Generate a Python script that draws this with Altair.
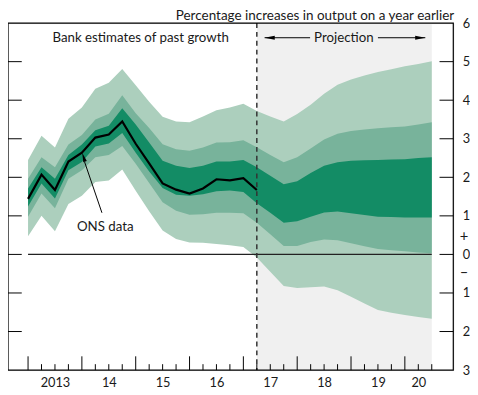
import altair as alt
import pandas as pd

# ---- data ----
quarters = list(range(31))          # 0 = 2013 Q1 ... 30 = 2020 Q3
ons_q = list(range(18))
ons = [1.44, 2.07, 1.67, 2.41, 2.64, 3.03, 3.11, 3.45, 2.87, 2.36, 1.84, 1.68,
       1.58, 1.71, 1.95, 1.92, 1.98, 1.67]

light_hi = [2.45, 3.08, 2.77, 3.52, 3.81, 4.30, 4.45, 4.81, 4.39, 3.96, 3.57, 3.45,
            3.43, 3.58, 3.74, 3.81, 3.91, 3.72, 3.58, 3.45, 3.64, 3.88, 4.17, 4.40,
            4.54, 4.64, 4.73, 4.80, 4.88, 4.94, 5.01]
light_lo = [0.47, 1.00, 0.60, 1.31, 1.52, 1.88, 1.92, 2.20, 1.65, 1.12, 0.62, 0.40,
            0.31, 0.30, 0.27, 0.24, 0.19, -0.08, -0.45, -0.82, -0.87, -0.85, -0.83,
            -0.93, -1.10, -1.27, -1.44, -1.51, -1.57, -1.62, -1.67]
mid_hi = [1.96, 2.52, 2.26, 2.85, 3.10, 3.50, 3.65, 4.13, 3.66, 3.28, 2.86, 2.73,
          2.69, 2.77, 2.90, 2.91, 2.96, 2.78, 2.58, 2.39, 2.52, 2.75, 2.98, 3.13,
          3.20, 3.24, 3.27, 3.30, 3.32, 3.37, 3.43]
mid_lo = [0.98, 1.58, 1.20, 1.96, 2.18, 2.52, 2.58, 2.81, 2.35, 1.85, 1.35, 1.13,
          1.03, 1.04, 1.08, 1.08, 1.07, 0.82, 0.52, 0.22, 0.22, 0.32, 0.39, 0.37,
          0.29, 0.21, 0.14, 0.11, 0.08, 0.05, 0.03]
dark_hi = [1.71, 2.26, 1.96, 2.58, 2.85, 3.22, 3.34, 3.79, 3.37, 2.90, 2.43, 2.30,
           2.24, 2.30, 2.41, 2.41, 2.45, 2.26, 2.04, 1.82, 1.90, 2.11, 2.30, 2.39,
           2.43, 2.44, 2.45, 2.46, 2.47, 2.50, 2.52]
dark_lo = [1.24, 1.84, 1.45, 2.18, 2.40, 2.80, 2.88, 3.15, 2.64, 2.15, 1.72, 1.55,
           1.52, 1.56, 1.64, 1.66, 1.62, 1.33, 1.08, 0.82, 0.86, 0.98, 1.09, 1.11,
           1.07, 1.02, 0.98, 0.97, 0.96, 0.96, 0.96]

proj_start, proj_end = 17, 30
x_label_pos = [2, 6, 10, 14, 18, 22, 26, 29]
x_label_text = ["2013", "14", "15", "16", "17", "18", "19", "20"]
major_ticks = [0, 4, 8, 12, 16, 20, 24, 28]
minor_ticks = [q for q in quarters if q not in major_ticks]
y_label_vals = [6, 5, 4, 3, 2, 1, 0, -1, -2, -3]
y_tick_vals = [5, 4, 3, 2, 1, 0, -1, -2]
y_min, y_max = -3, 6

header = "Percentage increases in output on a year earlier"
notes_q = [8.37, 23.47, 5.74]
notes_v = [5.62, 5.62, 0.72]
notes_t = ["Bank estimates of past growth", "Projection", "ONS data"]
sign_v = [0.47, -0.45]
sign_t = ["+", "–"]

# ---- styling ----
W, H = 453, 353
FONT = "Lato"
TXT = "#1a1a1a"
C_LIGHT, C_MID, C_DARK, C_GREY = "#accfbd", "#78b39b", "#138c65", "#f0f0f0"

xs = alt.Scale(domain=[-1.49, 31.6], nice=False, zero=False)
ys = alt.Scale(domain=[y_min, y_max], nice=False, zero=False)

band = pd.DataFrame({"q": quarters, "lh": light_hi, "ll": light_lo, "mh": mid_hi,
                     "ml": mid_lo, "dh": dark_hi, "dl": dark_lo})
line_df = pd.DataFrame({"q": ons_q, "v": ons})

lab_expr = " : ".join(f"datum.value == {p} ? '{t}'" for p, t in zip(x_label_pos, x_label_text)) + " : ''"

x_axis = alt.Axis(values=x_label_pos, labelExpr=lab_expr, ticks=False, domain=False,
                  grid=False, labelPadding=7, labelFontSize=13, labelFont=FONT,
                  labelColor=TXT, labelFlush=False, labelOverlap=False,
                  labelBound=False, title=None)
y_axis = alt.Axis(orient="right", values=y_label_vals, labelExpr="'' + abs(datum.value)",
                  ticks=False, domain=False, grid=False, labelPadding=9, labelFontSize=13,
                  labelFont=FONT, labelColor=TXT, labelFlush=False, labelOverlap=False,
                  labelBound=False, title=None)

AX = dict(scale=xs, axis=x_axis)
AY = dict(scale=ys, axis=y_axis)

grey = alt.Chart(pd.DataFrame({"a": [proj_start], "b": [proj_end],
                               "lo": [y_min], "hi": [y_max]})).mark_rect(
    color=C_GREY).encode(
    x=alt.X("a:Q", **AX), x2="b:Q", y=alt.Y("lo:Q", **AY), y2="hi:Q")

light = alt.Chart(band).mark_area(color=C_LIGHT).encode(
    x=alt.X("q:Q", **AX), y=alt.Y("ll:Q", **AY), y2="lh:Q")
mid = alt.Chart(band).mark_area(color=C_MID).encode(
    x=alt.X("q:Q", **AX), y=alt.Y("ml:Q", **AY), y2="mh:Q")
dark = alt.Chart(band).mark_area(color=C_DARK).encode(
    x=alt.X("q:Q", **AX), y=alt.Y("dl:Q", **AY), y2="dh:Q")

zero = alt.Chart(pd.DataFrame({"a": [0], "b": [30], "v": [0]})).mark_rule(
    color="#222", strokeWidth=1.2).encode(
    x=alt.X("a:Q", **AX), x2="b:Q", y=alt.Y("v:Q", **AY))

dash = alt.Chart(pd.DataFrame({"q": [proj_start]})).mark_rule(
    color="#333", strokeWidth=1.5, strokeDash=[5, 4]).encode(
    x=alt.X("q:Q", **AX), y=alt.value(0), y2=alt.value(H))

ons_line = alt.Chart(line_df).mark_line(color="black", strokeWidth=2.2).encode(
    x=alt.X("q:Q", **AX), y=alt.Y("v:Q", **AY))

maj = alt.Chart(pd.DataFrame({"q": major_ticks})).mark_rule(color="black").encode(
    x=alt.X("q:Q", **AX), y=alt.value(H), y2=alt.value(H - 14))
mnr = alt.Chart(pd.DataFrame({"q": minor_ticks})).mark_rule(color="black").encode(
    x=alt.X("q:Q", **AX), y=alt.value(H), y2=alt.value(H - 6))
yl = alt.Chart(pd.DataFrame({"v": y_tick_vals})).mark_rule(color="black").encode(
    y=alt.Y("v:Q", **AY), x=alt.value(0), x2=alt.value(14))
yr = alt.Chart(pd.DataFrame({"v": y_tick_vals})).mark_rule(color="black").encode(
    y=alt.Y("v:Q", **AY), x=alt.value(W - 14), x2=alt.value(W))

notes = alt.Chart(pd.DataFrame({"q": notes_q, "v": notes_v, "t": notes_t})).mark_text(
    font=FONT, fontSize=13.5, color=TXT, align="center", baseline="middle").encode(
    x=alt.X("q:Q", **AX), y=alt.Y("v:Q", **AY), text="t:N")

pm = alt.Chart(pd.DataFrame({"v": sign_v, "t": sign_t})).mark_text(
    font=FONT, fontSize=15, color=TXT, align="center", baseline="middle").encode(
    x=alt.value(W + 11), y=alt.Y("v:Q", **AY), text="t:N")

head = alt.Chart(pd.DataFrame({"t": [header]})).mark_text(
    font=FONT, fontSize=13.7, color=TXT, align="right", baseline="alphabetic").encode(
    x=alt.value(W + 1), y=alt.value(-3), text="t:N")

# Projection arrows
arr = pd.DataFrame({"a": [17.58, 26.0], "b": [20.96, 29.52], "v": [5.62, 5.62]})
arr_lines = alt.Chart(arr).mark_rule(color="black", strokeWidth=1).encode(
    x=alt.X("a:Q", **AX), x2="b:Q", y=alt.Y("v:Q", **AY))
heads = pd.DataFrame({"q": [17.95, 29.15], "v": [5.62, 5.62], "ang": [0, 180]})
arr_heads = alt.Chart(heads).mark_point(
    shape="M-1,0L1,-0.4L1,0.4Z", filled=True, color="black", size=110, opacity=1).encode(
    x=alt.X("q:Q", **AX), y=alt.Y("v:Q", **AY),
    angle=alt.Angle("ang:Q", scale=None))

# ONS data pointer
ptr = pd.DataFrame({"a": [5.49], "b": [4.20], "v1": [1.08], "v2": [2.40]})
ptr_line = alt.Chart(ptr).mark_rule(color="black", strokeWidth=1).encode(
    x=alt.X("a:Q", **AX), x2="b:Q", y=alt.Y("v1:Q", **AY), y2="v2:Q")
ptr_head = alt.Chart(pd.DataFrame({"q": [4.13], "v": [2.52], "ang": [342]})).mark_point(
    shape="M0,-1L0.4,1L-0.4,1Z", filled=True, color="black", size=90, opacity=1).encode(
    x=alt.X("q:Q", **AX), y=alt.Y("v:Q", **AY),
    angle=alt.Angle("ang:Q", scale=None))

frame = alt.Chart(pd.DataFrame({"k": [0]})).mark_rect(
    fillOpacity=0, stroke="black", strokeWidth=1.2).encode(
    x=alt.value(0), x2=alt.value(W), y=alt.value(0), y2=alt.value(H))

chart = alt.layer(
    grey, light, mid, dark, zero, dash, ons_line, maj, mnr, yl, yr,
    notes, pm, head, arr_lines, arr_heads, ptr_line, ptr_head, frame
).properties(
    width=W, height=H, autosize="none",
    padding={"left": 0, "top": 12, "right": 17, "bottom": 22}
).configure_view(stroke=None).configure(font=FONT)

chart.save("out.html", embed_options={"renderer": "svg", "actions": False})
